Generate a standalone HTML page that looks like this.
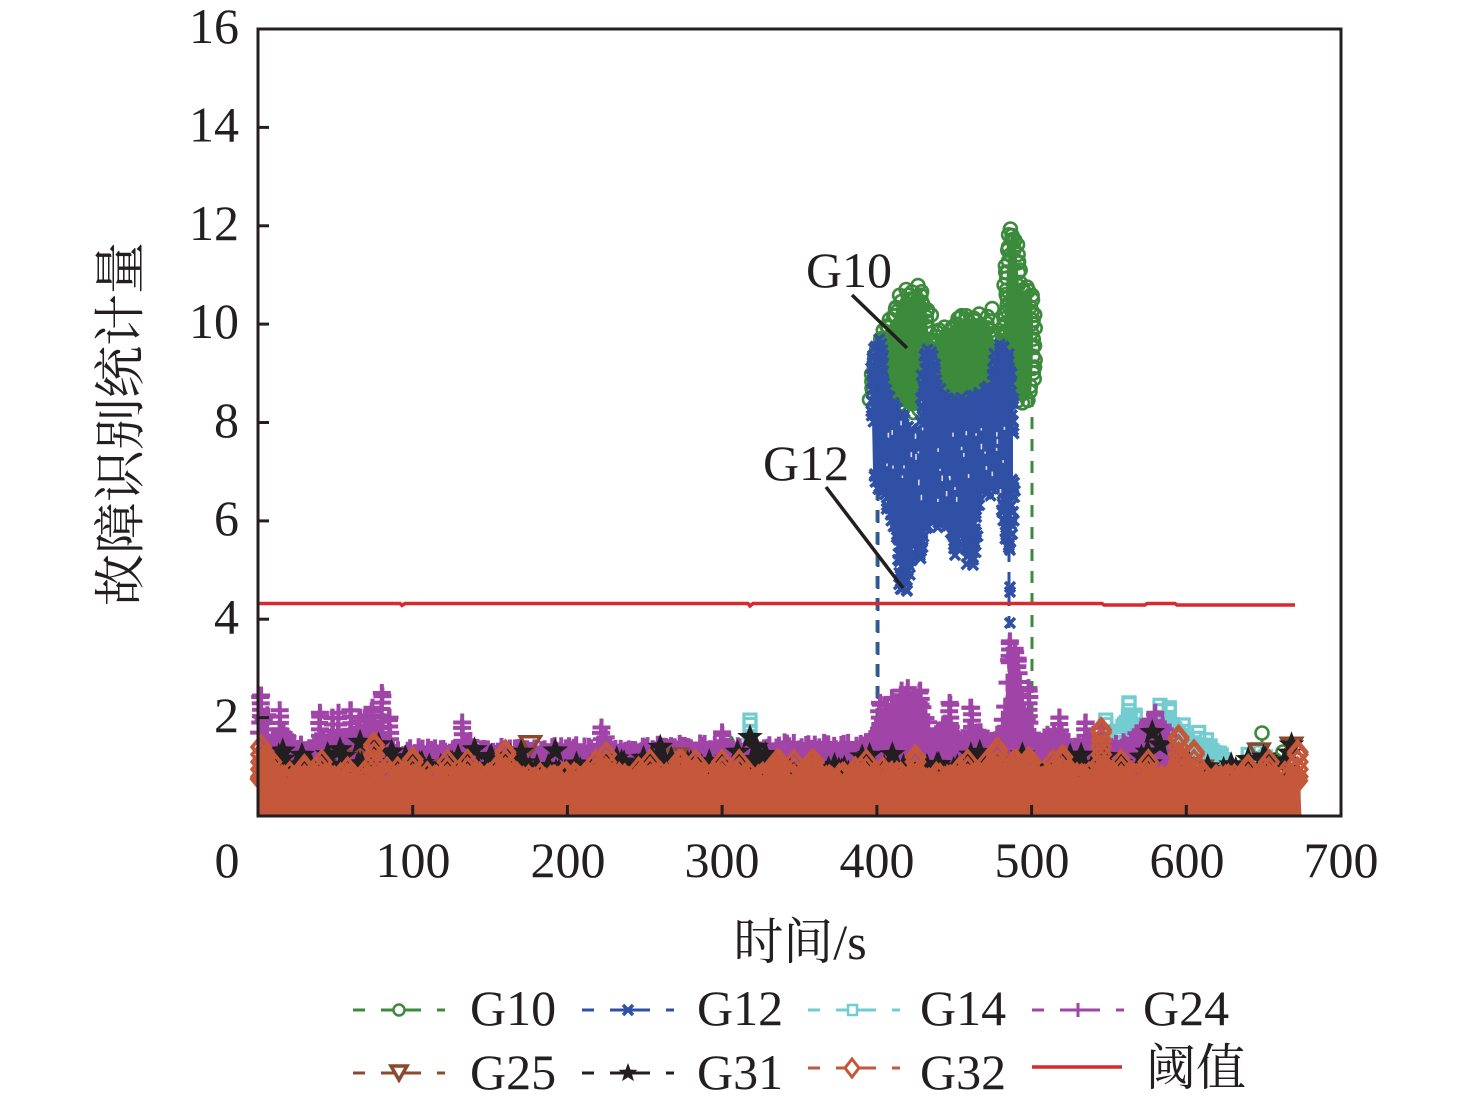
<!DOCTYPE html>
<html><head><meta charset="utf-8">
<style>
html,body{margin:0;padding:0;background:#fff}
svg{display:block}
text{font-family:"Liberation Serif","Noto Serif CJK SC",serif;fill:#231f20}
</style></head>
<body>
<svg id="s" width="1476" height="1116" viewBox="0 0 1476 1116" xmlns="http://www.w3.org/2000/svg">
<rect width="1476" height="1116" fill="#fff"/>
<g id="data"></g>
<rect x="258" y="29" width="1083" height="787" fill="none" stroke="#231f20" stroke-width="3"/>
<g stroke="#231f20" stroke-width="3">
<line x1="258" y1="127.4" x2="269" y2="127.4"/>
<line x1="258" y1="225.8" x2="269" y2="225.8"/>
<line x1="258" y1="324.1" x2="269" y2="324.1"/>
<line x1="258" y1="422.5" x2="269" y2="422.5"/>
<line x1="258" y1="520.9" x2="269" y2="520.9"/>
<line x1="258" y1="619.2" x2="269" y2="619.2"/>
<line x1="258" y1="717.6" x2="269" y2="717.6"/>
<line x1="412.7" y1="816" x2="412.7" y2="805"/>
<line x1="567.4" y1="816" x2="567.4" y2="805"/>
<line x1="722.1" y1="816" x2="722.1" y2="805"/>
<line x1="876.9" y1="816" x2="876.9" y2="805"/>
<line x1="1031.6" y1="816" x2="1031.6" y2="805"/>
<line x1="1186.3" y1="816" x2="1186.3" y2="805"/>
</g>
<g font-size="50" text-anchor="end">
<text x="239" y="43">16</text>
<text x="239" y="141.5">14</text>
<text x="239" y="240">12</text>
<text x="239" y="338">10</text>
<text x="239" y="437">8</text>
<text x="239" y="535">6</text>
<text x="239" y="633.5">4</text>
<text x="239" y="732">2</text>
</g>
<g font-size="50" text-anchor="middle">
<text x="227" y="877">0</text>
<text x="413" y="877">100</text>
<text x="568" y="877">200</text>
<text x="722" y="877">300</text>
<text x="877" y="877">400</text>
<text x="1032" y="877">500</text>
<text x="1187" y="877">600</text>
<text x="1341" y="877">700</text>
</g>
<text x="800" y="959" font-size="50" text-anchor="middle">时间/s</text>
<text transform="translate(122,424) rotate(-90)" font-size="52" text-anchor="middle" dominant-baseline="central">故障识别统计量</text>
<text x="849" y="287" font-size="50" text-anchor="middle">G10</text>
<line x1="852" y1="295" x2="907" y2="348" stroke="#231f20" stroke-width="3.5"/>
<text x="806" y="480" font-size="50" text-anchor="middle">G12</text>
<line x1="826" y1="487" x2="903" y2="588" stroke="#231f20" stroke-width="3.5"/>
<g id="legend"></g>
<g font-size="50">
<text x="470" y="1025">G10</text>
<text x="697" y="1025">G12</text>
<text x="920" y="1025">G14</text>
<text x="1143" y="1025">G24</text>
<text x="470" y="1089">G25</text>
<text x="697" y="1089">G31</text>
<text x="920" y="1089">G32</text>
<text x="1146" y="1085">阈值</text>
</g>
<line x1="1032" y1="1067" x2="1122" y2="1067" stroke="#d9292e" stroke-width="3.5"/>
</svg>
<script>
(function(){
var a=987654;
function R(){a|=0;a=a+0x6D2B79F5|0;var t=Math.imul(a^a>>>15,1|a);t=t+Math.imul(t^t>>>7,61|t)^t;return((t^t>>>14)>>>0)/4294967296;}
var X=function(t){return 258+t*1083/700;}, Y=function(v){return 816-v*49.19;};
var f=function(n){return Math.round(n*10)/10;};
var C={g:'#3c8a3c',b:'#2f50a5',c:'#73ccd0',p:'#a044a8',br:'#8b4a2e',k:'#231f20',o:'#c5573b',r:'#d9292e'};
var g=[];
function P(a){return a.map(function(p){return f(p[0])+','+f(p[1]);}).join(' ');}
function poly(pts,fill){g.push('<polygon points="'+P(pts)+'" fill="'+fill+'"/>');}
function circ(x,y,c){g.push('<circle cx="'+f(x)+'" cy="'+f(y)+'" r="6.5" fill="none" stroke="'+c+'" stroke-width="2.6"/>');}
function xm(x,y,c){x=f(x);y=f(y);g.push('<path d="M'+(x-5)+','+(y-5)+'L'+(x+5)+','+(y+5)+'M'+(x-5)+','+(y+5)+'L'+(x+5)+','+(y-5)+'" stroke="'+c+'" stroke-width="3.5" fill="none"/>');}
function sq(x,y,c){g.push('<rect x="'+f(x-6)+'" y="'+f(y-6)+'" width="12" height="12" fill="none" stroke="'+c+'" stroke-width="3.2"/>');}
function pl(x,y,c){x=f(x);y=f(y);g.push('<path d="M'+(x-9)+','+y+'H'+(x+9)+'M'+x+','+(y-9)+'V'+(y+9)+'" stroke="'+c+'" stroke-width="4" fill="none"/>');}
function tri(x,y,c){g.push('<polygon points="'+P([[x-10,y-8],[x+10,y-8],[x,y+9]])+'" fill="none" stroke="'+c+'" stroke-width="3.5"/>');}
function star(x,y,c,r){r=r||13.5;var pts=[];for(var i=0;i<10;i++){var rr=i%2?r*0.42:r;var an=-Math.PI/2+i*Math.PI/5;pts.push([x+rr*Math.cos(an),y+rr*Math.sin(an)]);}g.push('<polygon points="'+P(pts)+'" fill="'+c+'"/>');}
function dia(x,y,c){g.push('<polygon points="'+P([[x,y-11],[x+9,y],[x,y+11],[x-9,y]])+'" fill="none" stroke="'+c+'" stroke-width="3.5"/>');}
function interp(kp,t){for(var i=0;i<kp.length-1;i++){if(t>=kp[i][0]&&t<=kp[i+1][0]){var q=(t-kp[i][0])/(kp[i+1][0]-kp[i][0]);return kp[i][1]+q*(kp[i+1][1]-kp[i][1]);}}return t<kp[0][0]?kp[0][1]:kp[kp.length-1][1];}
function vdash(x,y1,y2,c){g.push('<line x1="'+x+'" y1="'+y1+'" x2="'+x+'" y2="'+y2+'" stroke="'+c+'" stroke-width="3" stroke-dasharray="12 10"/>');}
function edge(pts,fn,c,step,jit){for(var i=0;i<pts.length-1;i++){var p=pts[i],q=pts[i+1];var d=Math.hypot(q[0]-p[0],q[1]-p[1]);var n=Math.max(1,Math.round(d/step));for(var k=0;k<n;k++){var u=k/n;fn(p[0]+(q[0]-p[0])*u+(R()-0.5)*jit,p[1]+(q[1]-p[1])*u+(R()-0.5)*jit,c);}}}

/* ---- G10 green ---- */
var gTop=[[872,400],[873,378],[876,360],[880,345],[884,332],[889,325],[894,318],[898,305],[902,295],[906,290],[910,297],[914,292],[918,286],[922,290],[925,305],[928,330],[931,345],[935,342],[939,332],[944,326],[950,328],[956,320],[962,325],[968,318],[974,320],[980,316],[986,318],[990,328],[994,340],[998,348],[1002,343],[1005,310],[1007,270],[1010,240],[1012,231],[1015,238],[1017,260],[1019,285],[1023,292],[1027,288],[1030,290],[1032,296],[1033,320],[1033,350],[1032,380],[1031,395]];
var gBot=[[1028,400],[1022,402],[1015,400],[1008,398],[1000,390],[990,398],[975,402],[960,402],[945,400],[930,398],[922,400],[918,410],[912,412],[905,408],[898,405],[890,410],[883,410],[876,405]];
vdash(877,400,790,C.g);
vdash(1032,395,800,C.g);
poly(gTop.concat(gBot),C.g);
edge(gTop,circ,C.g,5,5);
edge(gBot,circ,C.g,7,6);
for(var i=0;i<50;i++){circ(882+R()*145,305+R()*90,C.g);}
circ(1262,733,C.g);g.push('<line x1="1262" y1="740" x2="1262" y2="770" stroke="'+C.g+'" stroke-width="3"/>');
circ(1247,762,C.g);circ(1253,758,C.g);circ(1275,760,C.g);circ(1283,752,C.g);circ(727,742,C.g);

/* ---- G12 blue ---- */
var bTop=[[872,420],[873,360],[875,345],[878,340],[881,350],[884,385],[890,398],[897,410],[905,420],[912,430],[918,443],[921,430],[923,380],[925,358],[928,350],[931,352],[934,365],[937,385],[945,398],[955,400],[965,398],[975,395],[985,390],[992,380],[996,355],[1000,346],[1004,345],[1007,352],[1010,370],[1012,400],[1013,440]];
var bBot=[[1013,480],[1011,530],[1008,548],[1004,530],[1000,475],[996,468],[992,488],[988,495],[982,488],[978,495],[975,540],[972,560],[968,562],[965,525],[960,525],[957,545],[954,548],[951,515],[946,525],[942,505],[937,528],[932,520],[928,522],[924,532],[921,560],[917,542],[912,546],[909,562],[906,592],[902,590],[899,548],[895,525],[890,515],[885,495],[880,488],[876,482],[873,470]];
g.push('<line x1="878" y1="470" x2="878" y2="790" stroke="'+C.b+'" stroke-width="3" stroke-dasharray="13 9" stroke-dashoffset="4"/>');
vdash(1009,550,790,C.b);
poly(bTop.concat(bBot),C.b);
edge(bTop,xm,C.b,5,4);
edge(bBot,xm,C.b,4,5);
for(var i=0;i<40;i++){var sx=885+R()*120, sy=420+R()*80;g.push('<rect x="'+f(sx)+'" y="'+f(sy)+'" width="1.6" height="'+f(2+R()*4)+'" fill="#fff" opacity="0.8"/>');}
[[1010,550],[1010,587],[1010,592],[955,537],[955,555],[973,547],[973,565],[1010,623],[1012,652],[1014,680],[1021,700],[1098,745]].forEach(function(p){xm(p[0],p[1],C.b);});

/* ---- G14 cyan ---- */
var ck=[[552,1.0],[556,1.6],[562,2.05],[568,1.8],[575,1.6],[582,2.0],[590,1.95],[598,1.6],[605,1.5],[615,1.45],[622,1.3],[627,0.9]];
var cp=[];for(var t=552;t<=627;t+=0.8){cp.push([X(t),Y(interp(ck,t)-0.15*R())]);}
cp.push([X(627),800]);cp.push([X(552),800]);poly(cp,C.c);
for(var t=553;t<=626;t+=1.2){sq(X(t),Y(interp(ck,t)-0.1*R()),C.c);}
[[563,2.3],[567,2.05],[583,2.25],[589,2.2],[598,1.85],[608,1.7],[613,1.55],[548,1.95],[318,1.95],[640,1.25],[646,1.35],[651,1.2]].forEach(function(s){var base=Math.min(s[1],1.3);for(var v=base;v<=s[1]+0.001;v+=0.14){sq(X(s[0]),Y(v),C.c);}sq(X(s[0]),Y(s[1]),C.c);});

/* ---- G24 purple ---- */
var pk=[[0,1.6],[3,2.2],[6,1.6],[15,1.75],[25,1.45],[35,1.5],[45,1.7],[55,1.7],[65,1.75],[75,1.85],[85,1.4],[130,1.4],[135,1.65],[140,1.4],[220,1.45],[225,1.65],[230,1.45],[320,1.5],[395,1.5],[400,1.85],[405,2.15],[420,2.35],[430,2.35],[435,1.7],[445,1.9],[455,1.6],[465,1.9],[475,1.45],[482,2.1],[485,3.2],[489,3.3],[493,2.7],[497,2.1],[502,1.6],[515,1.8],[525,1.5],[535,1.6],[545,1.5],[560,1.55],[575,1.95],[585,1.85],[595,1.3],[610,1.0],[675,0.9]];
var pp=[];for(var t=1;t<=674;t+=0.8){pp.push([X(t),Y(interp(pk,t)-0.22*R())]);}
pp.push([X(674),810]);pp.push([X(1),810]);poly(pp,C.p);
for(var t=1;t<=600;t+=1.6){pl(X(t+(R()-0.5)),Y(interp(pk,t)-0.2*R()),C.p);}
[[2,2.45],[6,2.05],[14,2.15],[40,2.1],[48,2.0],[52,2.1],[60,2.15],[66,2.0],[70,2.05],[74,2.2],[80,2.5],[85,2.0],[132,1.9],[222,1.8],[300,1.7],[402,2.3],[410,2.4],[416,2.55],[420,2.6],[428,2.55],[447,2.3],[461,2.2],[486,3.55],[489,3.4],[491,3.2],[498,2.6],[518,2.0],[535,1.9],[545,1.8],[580,2.1]].forEach(function(s){var base=interp(pk,s[0])-0.1;for(var v=base;v<=s[1]+0.001;v+=0.13){pl(X(s[0]+(R()-0.5)*1.2),Y(v),C.p);}pl(X(s[0]),Y(s[1]),C.p);});

/* ---- G25 brown ---- */
[[176,1.45],[271,1.2],[647,1.3],[668,1.42],[610,0.95],[62,1.15],[480,1.05],[110,0.95]].forEach(function(s){tri(X(s[0]),Y(s[1]),C.br);});

/* ---- G31 black stars ---- */
for(var i=0;i<170;i++){var t=5+R()*667;star(X(t),Y(0.85+0.45*R()*R()+0.12*R()),C.k);}
[[12,0.75],[45,1.25],[53,1.35],[66,1.5],[78,1.45],[140,1.35],[170,1.3],[235,1.1],[260,1.4],[310,1.3],[318,1.6],[322,1.4],[320,1.15],[410,1.25],[440,1.05],[452,1.0],[470,0.95],[575,1.3],[578,1.7],[583,1.45],[571,1.2],[650,1.2],[668,1.45],[600,1.1],[632,0.95]].forEach(function(s){star(X(s[0]),Y(s[1]),C.k);});

/* ---- G32 orange ---- */
var op=[[X(1),816]];op.push([X(1),Y(1.3)]);
for(var t=2;t<=674;t+=0.6){var base=t<8?1.15:0.62;op.push([X(t),Y(base+0.22*R())]);}
op.push([X(674.5),816]);poly(op,C.o);
for(var t=2;t<=673;t+=1.7){dia(X(t+(R()-0.5)),Y(0.66+0.2*R()),C.o);}
for(var i=0;i<45;i++){var tt=3+R()*668,top=0.95+0.3*R();for(var v=0.8;v<=top;v+=0.15){dia(X(tt),Y(v),C.o);}}
[[2,1.4],[5,1.2],[30,1.0],[75,1.45],[100,1.15],[160,1.3],[225,1.25],[300,1.1],[425,1.2],[478,1.35],[498,1.15],[520,1.2],[545,1.75],[595,1.6],[605,1.3],[640,1.0],[672,1.3]].forEach(function(s){for(var v=0.8;v<=s[1]+0.001;v+=0.15){dia(X(s[0]),Y(v),C.o);}dia(X(s[0]),Y(s[1]),C.o);});

/* ---- threshold ---- */
g.push('<path d="M258,603.5H400L402,605.5L405,603.5H748L750,606L753,603.5H1102L1104,605H1145L1147,603.5H1175L1177,605H1295" fill="none" stroke="'+C.r+'" stroke-width="3.5"/>');

document.getElementById('data').innerHTML=g.join('');

/* ---- legend samples ---- */
var L=[];
function samp(x0,y,c){L.push('<line x1="'+x0+'" y1="'+y+'" x2="'+(x0+92)+'" y2="'+y+'" stroke="'+c+'" stroke-width="3" stroke-dasharray="12 16"/>');L.push('<line x1="'+(x0+34)+'" y1="'+y+'" x2="'+(x0+58)+'" y2="'+y+'" stroke="'+c+'" stroke-width="3"/>');}
samp(353,1010,C.g);samp(582,1010,C.b);samp(808,1010,C.c);samp(1032,1010,C.p);
samp(353,1073,C.br);samp(582,1073,C.k);samp(808,1068,C.o);
document.getElementById('legend').innerHTML=L.join('');
g=[];
g.push('<circle cx="399" cy="1010" r="5.5" fill="#fff" stroke="'+C.g+'" stroke-width="2.5"/>');
xm(628,1010,C.b);
g.push('<rect x="848" y="1005" width="9" height="10" fill="#fff" stroke="'+C.c+'" stroke-width="2.5"/>');
g.push('<path d="M1071,1010H1085M1078,1003V1017" stroke="'+C.p+'" stroke-width="3"/>');
g.push('<polygon points="391,1066 407,1066 399,1080" fill="#fff" stroke="'+C.br+'" stroke-width="3.5"/>');
star(628,1073,C.k,10);
g.push('<polygon points="852,1059 859,1068 852,1077 845,1068" fill="#fff" stroke="'+C.o+'" stroke-width="3"/>');
document.getElementById('legend').innerHTML+=g.join('');
})();
</script>
</body></html>
